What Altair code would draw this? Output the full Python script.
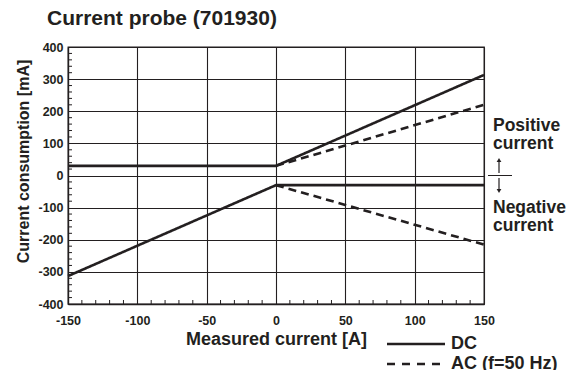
import altair as alt
import pandas as pd

# ---- data ----
dc_pos_x = [-150, 0, 150]
dc_pos_y = [30, 30, 313]
ac_pos_x = [0, 150]
ac_pos_y = [30, 220]
dc_neg_x = [-150, 0, 150]
dc_neg_y = [-313, -30, -30]
ac_neg_x = [0, 150]
ac_neg_y = [-30, -215]

legend_labels = ["DC", "AC (f=50 Hz)"]
x_ticks = [-150, -100, -50, 0, 50, 100, 150]
y_ticks = [-400, -300, -200, -100, 0, 100, 200, 300, 400]
x_minor = [v for v in range(-140, 150, 10) if v % 50 != 0]
y_minor = [v for v in range(-380, 400, 20) if v % 100 != 0]

chart_title = "Current probe (701930)"
x_title = "Measured current [A]"
y_title = "Current consumption [mA]"
annot_lines = ["Positive", "current", "Negative", "current"]

FONT = "Liberation Sans"
INK = "#231f20"

rows = []
for name, typ, xs, ys in [
    ("dc_pos", legend_labels[0], dc_pos_x, dc_pos_y),
    ("ac_pos", legend_labels[1], ac_pos_x, ac_pos_y),
    ("dc_neg", legend_labels[0], dc_neg_x, dc_neg_y),
    ("ac_neg", legend_labels[1], ac_neg_x, ac_neg_y),
]:
    for i, (xv, yv) in enumerate(zip(xs, ys)):
        rows.append({"series": name, "type": typ, "x": xv, "y": yv, "order": i})
df = pd.DataFrame(rows)

W, H = 416, 257
xs = alt.Scale(domain=[-150, 150], nice=False, zero=False)
ys = alt.Scale(domain=[-400, 400], nice=False, zero=False)

x_axis = alt.Axis(values=x_ticks, title=x_title, grid=True, ticks=False,
                  labelOverlap=False, labelFlush=False, labelExpr="datum.value + ''",
                  labelPadding=10, titleBaseline="alphabetic", titleY=40)
y_axis = alt.Axis(values=y_ticks, title=y_title, grid=True, ticks=False,
                  labelOverlap=False, labelFlush=False, labelExpr="datum.value + ''",
                  labelPadding=5, titleX=-40, titleY=114, titleAngle=270,
                  titleAlign="center", titleBaseline="alphabetic")

lines = alt.Chart(df).mark_line(color=INK, strokeWidth=2.6, strokeCap="butt").encode(
    x=alt.X("x:Q", scale=xs, axis=x_axis),
    y=alt.Y("y:Q", scale=ys, axis=y_axis),
    detail="series:N",
    order="order:Q",
    strokeDash=alt.StrokeDash("type:N",
                              scale=alt.Scale(domain=legend_labels, range=[[1, 0], [8, 5]]),
                              legend=None),
)

xminor = alt.Chart(pd.DataFrame({"x": x_minor})).mark_rule(color=INK, strokeWidth=1).encode(
    x=alt.X("x:Q", scale=xs, axis=x_axis), y=alt.value(H), y2=alt.value(H - 4))
yminor = alt.Chart(pd.DataFrame({"y": y_minor})).mark_rule(color=INK, strokeWidth=1).encode(
    y=alt.Y("y:Q", scale=ys, axis=y_axis), x=alt.value(0), x2=alt.value(4))

one = pd.DataFrame({"k": [0]})

title = alt.Chart(pd.DataFrame({"t": [chart_title]})).mark_text(
    font=FONT, fontWeight="bold", fontSize=21, align="left", baseline="alphabetic", color=INK
).encode(text="t:N", x=alt.value(-21), y=alt.value(-22))

annot = alt.Chart(pd.DataFrame({"t": annot_lines, "py": [84, 102, 166, 184]})).mark_text(
    font=FONT, fontWeight="bold", fontSize=17.5, align="left", baseline="alphabetic", color=INK
).encode(text="t:N", x=alt.value(425), y=alt.Y("py:Q", scale=None))

hline = alt.Chart(one).mark_rule(color=INK, strokeWidth=1).encode(
    x=alt.value(420), x2=alt.value(444), y=alt.value(128.5))
up_shaft = alt.Chart(one).mark_rule(color=INK, strokeWidth=1.2).encode(
    x=alt.value(431), y=alt.value(114), y2=alt.value(126))
down_shaft = alt.Chart(one).mark_rule(color=INK, strokeWidth=1.2).encode(
    x=alt.value(431), y=alt.value(131), y2=alt.value(143))
up_head = alt.Chart(one).mark_point(shape="triangle-up", filled=True, color=INK, size=22, opacity=1).encode(
    x=alt.value(431), y=alt.value(113))
down_head = alt.Chart(one).mark_point(shape="triangle-down", filled=True, color=INK, size=22, opacity=1).encode(
    x=alt.value(431), y=alt.value(144))

leg_df = pd.DataFrame({"type": legend_labels, "py": [297, 317]})
leg_lines = alt.Chart(leg_df).mark_rule(color=INK, strokeWidth=2.6, strokeCap="butt").encode(
    x=alt.value(319), x2=alt.value(377), y=alt.Y("py:Q", scale=None),
    strokeDash=alt.StrokeDash("type:N",
                              scale=alt.Scale(domain=legend_labels, range=[[1, 0], [8, 7]]),
                              legend=None))
leg_text = alt.Chart(leg_df).mark_text(
    font=FONT, fontWeight="bold", fontSize=18, align="left", baseline="middle", color=INK
).encode(text="type:N", x=alt.value(383), y=alt.Y("py:Q", scale=None))

chart = alt.layer(
    lines, xminor, yminor, title, annot, hline, up_shaft, down_shaft, up_head, down_head,
    leg_lines, leg_text
).resolve_scale(strokeDash="independent").properties(
    width=W, height=H,
    autosize=alt.AutoSizeParams(type="none"),
    padding={"left": 60, "top": 39, "right": 87, "bottom": 66},
).configure_view(stroke=INK, strokeWidth=1.3).configure_axis(
    domainColor=INK, domainWidth=1.3, gridColor=INK, gridWidth=1.1, gridOpacity=1,
    labelFont=FONT, labelFontWeight="bold", labelFontSize=12.5, labelColor=INK,
    titleFont=FONT, titleFontWeight="bold", titleFontSize=16, titleColor=INK,
).configure_axisX(titleFontSize=18)

chart.save("out.html", embed_options={"renderer": "svg", "actions": False})
